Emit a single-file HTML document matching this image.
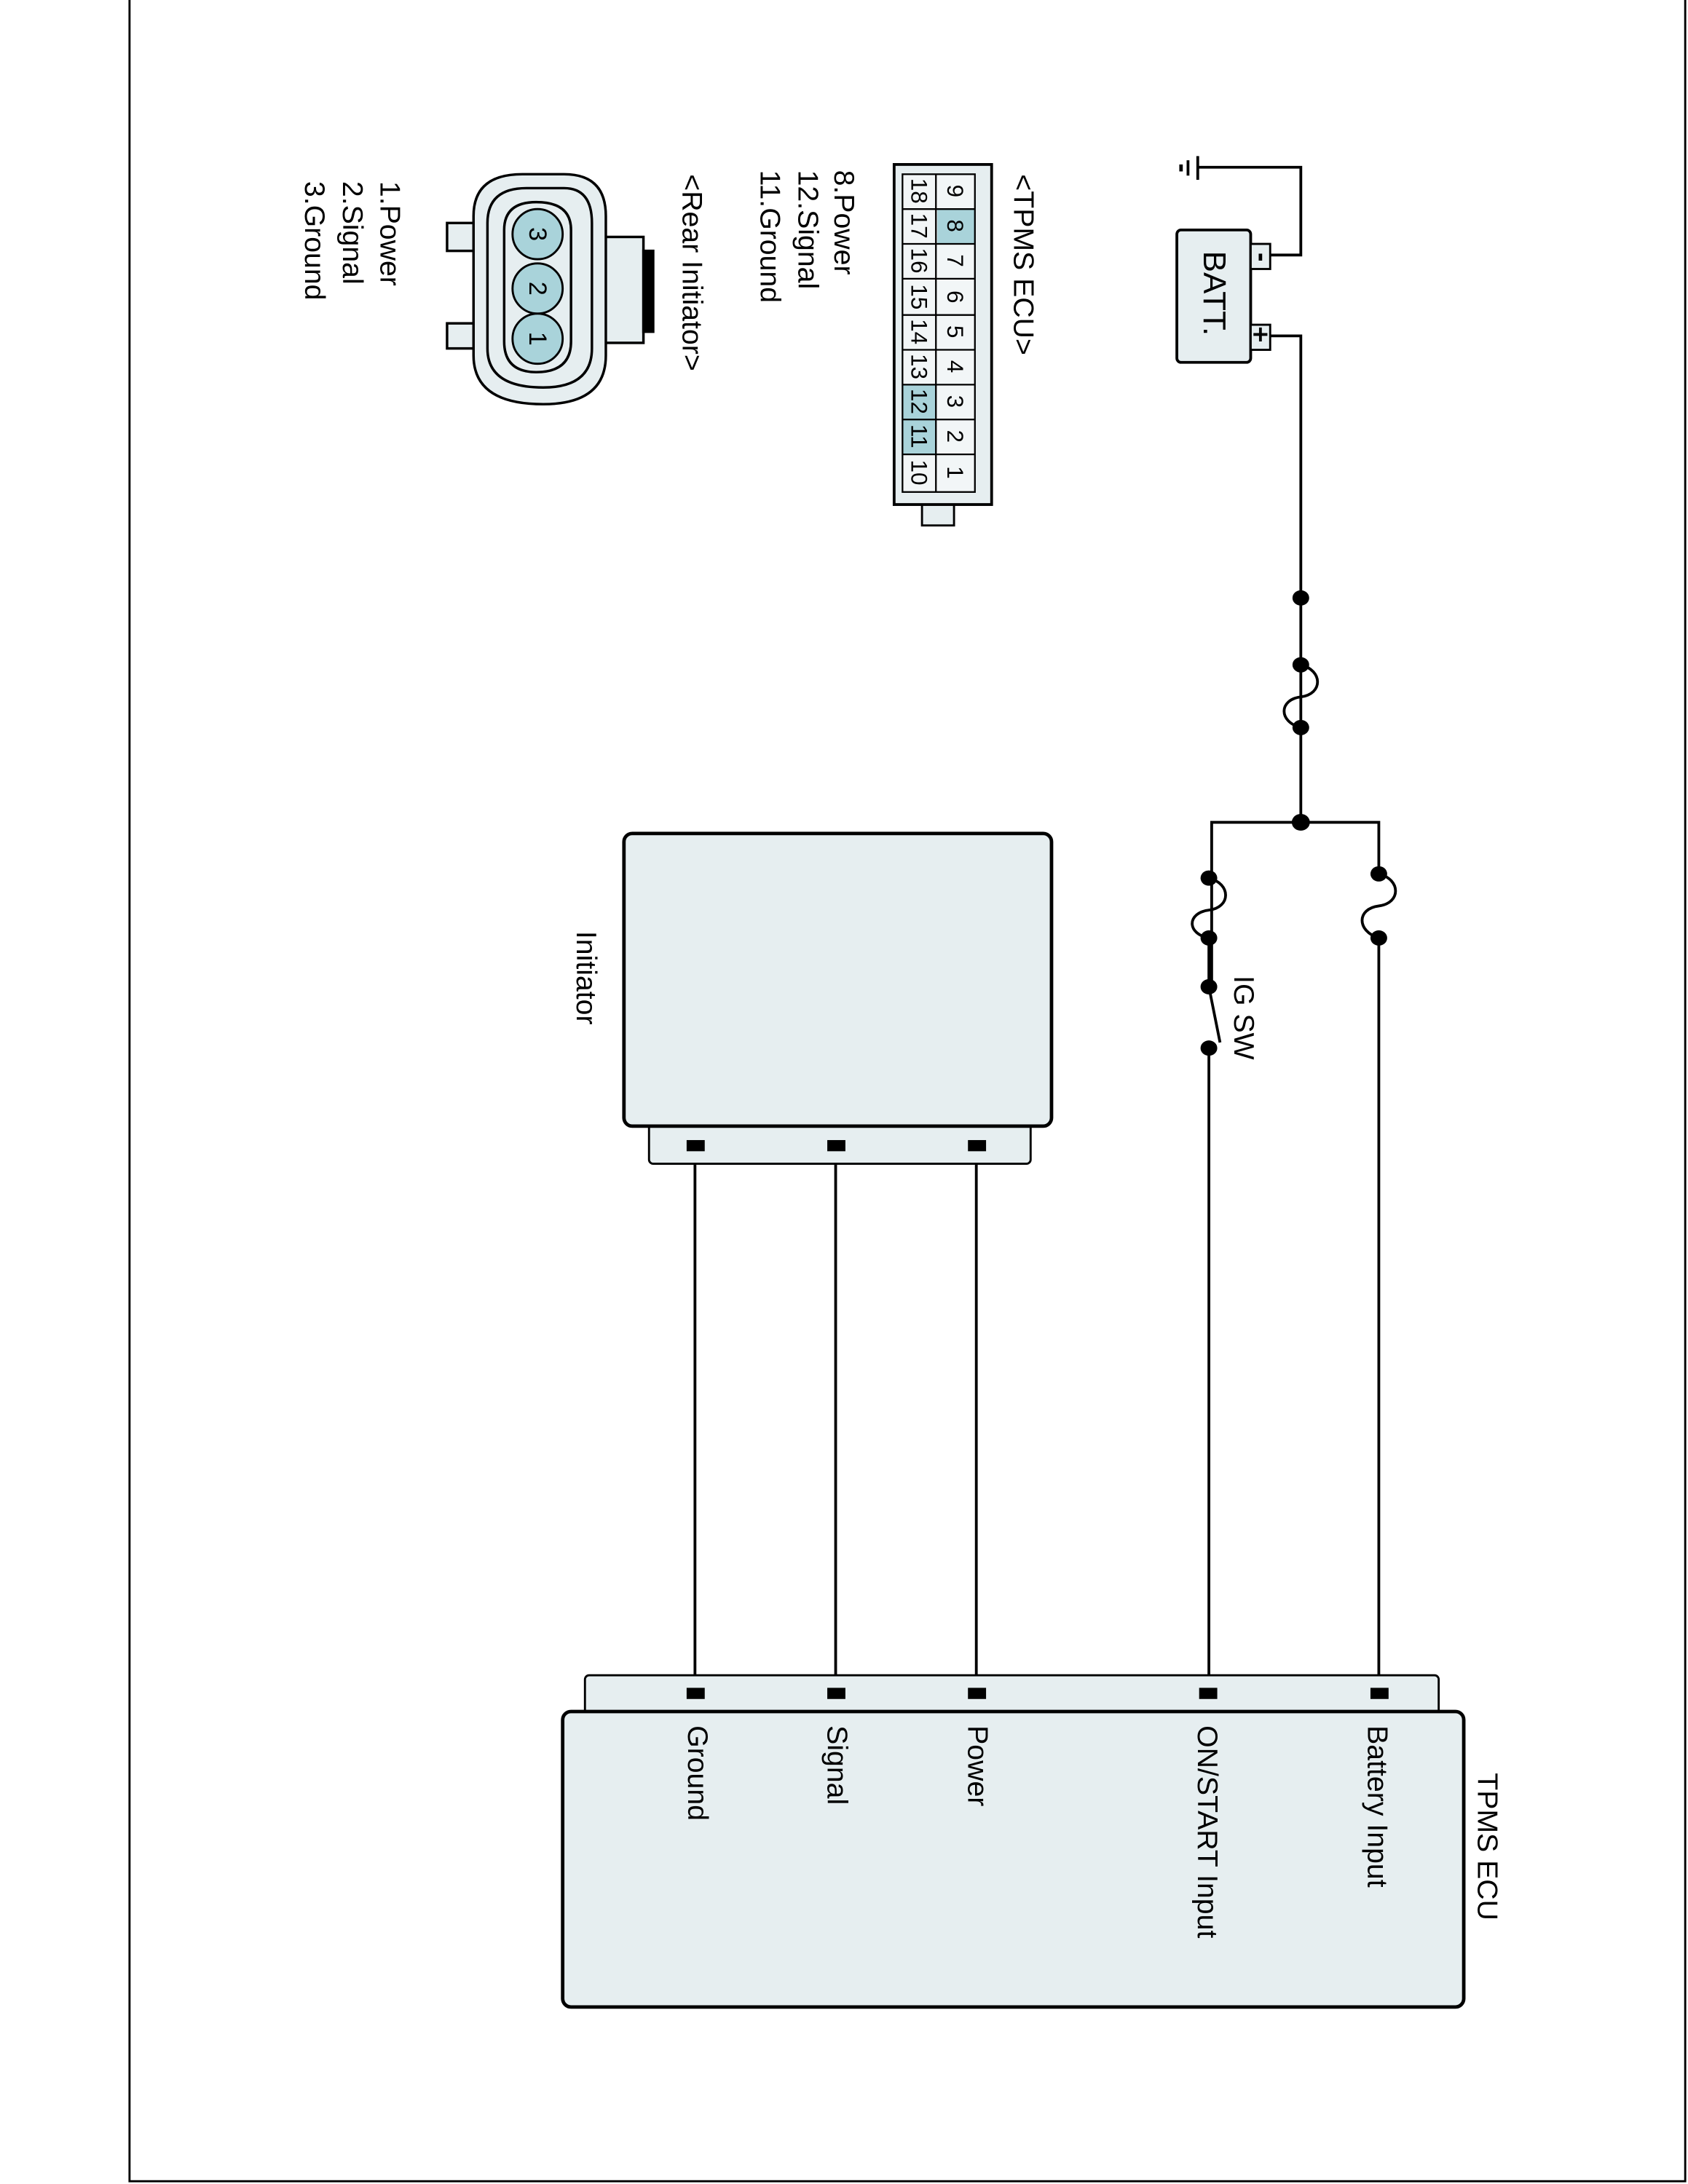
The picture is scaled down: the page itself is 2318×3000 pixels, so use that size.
<!DOCTYPE html>
<html><head><meta charset="utf-8"><style>html,body{margin:0;padding:0;background:#fff}svg{display:block}</style></head>
<body>
<svg width="2318" height="3000" viewBox="0 0 1212 1567" preserveAspectRatio="none" xmlns="http://www.w3.org/2000/svg" font-family="Liberation Sans, Arial, sans-serif" font-size="20.5">
<rect x="0" y="0" width="1212" height="1567" fill="#fff"/>
<polyline points="93,0 93,1565 1210,1565 1210,0" fill="none" stroke="#000" stroke-width="1.5"/>

<g stroke="#000" stroke-width="2" fill="none">
  <line x1="860" y1="112" x2="860" y2="129"/>
  <line x1="853" y1="115" x2="853" y2="126"/>
  <line x1="848" y1="118" x2="848" y2="123" stroke-width="2.5"/>
  <polyline points="860,120 934,120 934,183 912,183"/>
  <polyline points="912,241 934,241 934,590"/>
  <path d="M934,477 C950,481 950,498 934,500 C918,502 918,518 934,522"/>
  <polyline points="870,710 870,590 990,590 990,627"/>
  <path d="M990,627 C1006,631 1006,648 990,650 C974,652 974,668 990,673"/>
  <line x1="990" y1="673" x2="990" y2="1215"/>
  <path d="M868,630 C884,634 884,651 868,653 C852,655 852,670 868,673"/>
  <line x1="868" y1="673" x2="868" y2="708"/>
  <line x1="868" y1="708" x2="876" y2="748"/>
  <line x1="868" y1="752" x2="868" y2="1215"/>
  <line x1="499" y1="822" x2="499" y2="1215"/>
  <line x1="600" y1="822" x2="600" y2="1215"/>
  <line x1="701" y1="822" x2="701" y2="1215"/>
</g>
<g fill="#000">
  <ellipse cx="934" cy="429" rx="6" ry="5.5"/><ellipse cx="934" cy="477" rx="6" ry="5.5"/><ellipse cx="934" cy="522" rx="6" ry="5.5"/><ellipse cx="934" cy="590" rx="6.5" ry="6"/>
  <ellipse cx="990" cy="627" rx="6" ry="5.5"/><ellipse cx="990" cy="673" rx="6" ry="5.5"/>
  <ellipse cx="868" cy="630" rx="6" ry="5.5"/><ellipse cx="868" cy="673" rx="6" ry="5.5"/><ellipse cx="868" cy="708" rx="6" ry="5.5"/><ellipse cx="868" cy="752" rx="6" ry="5.5"/>
</g>

<rect x="845" y="165" width="53" height="95" rx="3" fill="#e6eef0" stroke="#000" stroke-width="2"/>
<rect x="898" y="175" width="14" height="18" fill="#e6eef0" stroke="#000" stroke-width="1.5"/>
<rect x="898" y="233" width="14" height="18" fill="#e6eef0" stroke="#000" stroke-width="1.5"/>
<line x1="905" y1="182" x2="905" y2="187" stroke="#000" stroke-width="2.5"/>
<path d="M900,240 H910 M905,235 V245" stroke="#000" stroke-width="2"/>
<text transform="translate(872,180) rotate(90)" dominant-baseline="central" font-size="23">BATT.</text>

<text transform="translate(893,700) rotate(90)" dominant-baseline="central">IG SW</text>

<rect x="466" y="800" width="274" height="35" rx="3" fill="#e6eef0" stroke="#000" stroke-width="1.5"/>
<rect x="448" y="598" width="307" height="210" rx="6" fill="#e6eef0" stroke="#000" stroke-width="2.5"/>
<g fill="#000"><rect x="493" y="818" width="13" height="8"/><rect x="594" y="818" width="13" height="8"/><rect x="695" y="818" width="13" height="8"/></g>
<text transform="translate(421,668) rotate(90)" dominant-baseline="central">Initiator</text>

<rect x="420" y="1202" width="613" height="35" rx="3" fill="#e6eef0" stroke="#000" stroke-width="1.5"/>
<rect x="404" y="1228" width="647" height="212" rx="6" fill="#e6eef0" stroke="#000" stroke-width="2.5"/>
<g fill="#000"><rect x="493" y="1211" width="13" height="8"/><rect x="594" y="1211" width="13" height="8"/><rect x="695" y="1211" width="13" height="8"/><rect x="861" y="1211" width="13" height="8"/><rect x="984" y="1211" width="13" height="8"/></g>
<g dominant-baseline="central">
<text transform="translate(501,1238) rotate(90)">Ground</text>
<text transform="translate(601,1238) rotate(90)">Signal</text>
<text transform="translate(702,1238) rotate(90)">Power</text>
<text transform="translate(867,1238) rotate(90)">ON/START Input</text>
<text transform="translate(989,1238) rotate(90)">Battery Input</text>
<text transform="translate(1068,1272) rotate(90)">TPMS ECU</text>
</g>

<rect x="662" y="355" width="23" height="22" fill="#e6eef0" stroke="#000" stroke-width="1.5"/>
<rect x="642" y="118" width="70" height="244" fill="#e6eef0" stroke="#000" stroke-width="2"/>
<rect x="648" y="125" width="52" height="228" fill="#f2f6f7"/>
<g fill="#a9d3da"><rect x="673" y="150" width="27" height="25"/><rect x="648" y="276" width="24" height="25"/><rect x="648" y="301" width="24" height="25"/></g>
<g stroke="#000" stroke-width="1.2">
  <line x1="672" y1="125" x2="672" y2="353"/>
  <line x1="648" y1="150" x2="700" y2="150"/><line x1="648" y1="175" x2="700" y2="175"/><line x1="648" y1="200" x2="700" y2="200"/>
  <line x1="648" y1="226" x2="700" y2="226"/><line x1="648" y1="251" x2="700" y2="251"/><line x1="648" y1="276" x2="700" y2="276"/>
  <line x1="648" y1="301" x2="700" y2="301"/><line x1="648" y1="326" x2="700" y2="326"/>
  <rect x="648" y="125" width="52" height="228" fill="none"/>
</g>
<g font-size="16.5" text-anchor="middle" dominant-baseline="central">
  <text transform="translate(686,137) rotate(90)">9</text><text transform="translate(686,162) rotate(90)">8</text><text transform="translate(686,187) rotate(90)">7</text>
  <text transform="translate(686,213) rotate(90)">6</text><text transform="translate(686,238) rotate(90)">5</text><text transform="translate(686,263) rotate(90)">4</text>
  <text transform="translate(686,288) rotate(90)">3</text><text transform="translate(686,313) rotate(90)">2</text><text transform="translate(686,339) rotate(90)">1</text>
  <text transform="translate(660,137) rotate(90)">18</text><text transform="translate(660,162) rotate(90)">17</text><text transform="translate(660,187) rotate(90)">16</text>
  <text transform="translate(660,213) rotate(90)">15</text><text transform="translate(660,238) rotate(90)">14</text><text transform="translate(660,263) rotate(90)">13</text>
  <text transform="translate(660,288) rotate(90)">12</text><text transform="translate(660,313) rotate(90)">11</text><text transform="translate(660,339) rotate(90)">10</text>
</g>
<g dominant-baseline="central">
<text transform="translate(735,125) rotate(90)">&lt;TPMS ECU&gt;</text>
<text transform="translate(606,122) rotate(90)">8.Power</text>
<text transform="translate(580,122) rotate(90)">12.Signal</text>
<text transform="translate(553,122) rotate(90)">11.Ground</text>
<text transform="translate(497,125) rotate(90)">&lt;Rear Initiator&gt;</text>
<text transform="translate(280,130) rotate(90)">1.Power</text>
<text transform="translate(253,130) rotate(90)">2.Signal</text>
<text transform="translate(226,130) rotate(90)">3.Ground</text>
</g>

<g stroke="#000" stroke-width="1.8" fill="#e6eef0">
  <rect x="321" y="160" width="20" height="20"/>
  <rect x="321" y="232" width="20" height="18"/>
  <rect x="428" y="170" width="34" height="76"/>
  <rect x="462" y="180" width="7" height="58" fill="#000"/>
  <path d="M340,155 Q340,125 375,125 L405,125 Q435,125 435,155 L435,255 Q435,290 390,290 Q340,290 340,255 Z"/>
  <path d="M350,160 Q350,135 378,135 L405,135 Q425,135 425,160 L425,250 Q425,278 390,278 Q350,278 350,250 Z"/>
  <path d="M362,165 Q362,145 385,145 Q410,145 410,165 L410,245 Q410,267 385,267 Q362,267 362,245 Z"/>
</g>
<g stroke="#000" stroke-width="1.5" fill="#a9d3da">
  <ellipse cx="386" cy="168" rx="18" ry="18"/>
  <ellipse cx="386" cy="207" rx="18" ry="18"/>
  <ellipse cx="386" cy="243" rx="18" ry="18"/>
</g>
<g font-size="18" text-anchor="middle" dominant-baseline="central">
  <text transform="translate(386,168) rotate(90)">3</text>
  <text transform="translate(386,207) rotate(90)">2</text>
  <text transform="translate(386,243) rotate(90)">1</text>
</g>
</svg>
</body></html>
